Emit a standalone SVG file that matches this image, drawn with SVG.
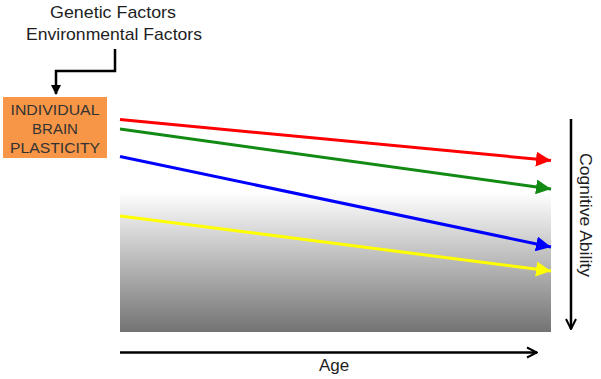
<svg xmlns="http://www.w3.org/2000/svg" width="601" height="379" viewBox="0 0 601 379">
<style>
text{font-family:"Liberation Sans",Arial,sans-serif;fill:#1e1e1e}
.lbl{font-size:17px}
.box{font-size:15px;fill:#333}
.ax{stroke:#000;stroke-width:2.5;fill:none}
.ln{stroke-width:3;fill:none}
</style>
<defs>
<linearGradient id="g" x1="0" y1="0" x2="0" y2="1">
<stop offset="0" stop-color="#ffffff"/>
<stop offset="1" stop-color="#737373"/>
</linearGradient>
<marker id="ab" viewBox="0 0 10 10" refX="9" refY="5" markerWidth="5" markerHeight="5" orient="auto" markerUnits="strokeWidth"><path d="M1,1 L9,5 L1,9" fill="none" stroke="#000" stroke-width="1.6"/></marker>
<marker id="ak" viewBox="0 0 10 10" refX="9" refY="5" markerWidth="4" markerHeight="4" orient="auto" markerUnits="strokeWidth"><path d="M0,0 L10,5 L0,10 Z" fill="#000"/></marker>
<marker id="mr" viewBox="0 0 10 10" refX="10" refY="5" markerWidth="5" markerHeight="5" orient="auto" markerUnits="strokeWidth"><path d="M0,0 L10,5 L0,10 Z" fill="#ff0000"/></marker>
<marker id="mg" viewBox="0 0 10 10" refX="10" refY="5" markerWidth="5" markerHeight="5" orient="auto" markerUnits="strokeWidth"><path d="M0,0 L10,5 L0,10 Z" fill="#138a13"/></marker>
<marker id="mb" viewBox="0 0 10 10" refX="10" refY="5" markerWidth="5" markerHeight="5" orient="auto" markerUnits="strokeWidth"><path d="M0,0 L10,5 L0,10 Z" fill="#0000ff"/></marker>
<marker id="my" viewBox="0 0 10 10" refX="10" refY="5" markerWidth="5" markerHeight="5" orient="auto" markerUnits="strokeWidth"><path d="M0,0 L10,5 L0,10 Z" fill="#ffff00"/></marker>
</defs>
<rect id="field" x="120" y="192" width="431" height="140" fill="url(#g)"/>
<g id="factors">
<text class="lbl" x="113" y="18" text-anchor="middle" textLength="126" lengthAdjust="spacingAndGlyphs">Genetic Factors</text>
<text class="lbl" x="114" y="40" text-anchor="middle" textLength="176" lengthAdjust="spacingAndGlyphs">Environmental Factors</text>
</g>
<g id="plasticity">
<rect x="3" y="97" width="104" height="61" fill="#f79646"/>
<text class="box" x="55" y="114.5" text-anchor="middle" textLength="89" lengthAdjust="spacingAndGlyphs">INDIVIDUAL</text>
<text class="box" x="55" y="133.5" text-anchor="middle">BRAIN</text>
<text class="box" x="55" y="152.5" text-anchor="middle" textLength="90" lengthAdjust="spacingAndGlyphs">PLASTICITY</text>
</g>
<g id="connectors">
<path class="ax" d="M115,49 V71 H56 V94" stroke-width="2" marker-end="url(#ak)"/>
<line class="ln" x1="120" y1="119.5" x2="551" y2="160.5" stroke="#ff0000" marker-end="url(#mr)"/>
<line class="ln" x1="120" y1="129" x2="551" y2="189" stroke="#138a13" marker-end="url(#mg)"/>
<line class="ln" x1="120" y1="156.5" x2="551" y2="247" stroke="#0000ff" marker-end="url(#mb)"/>
<line class="ln" x1="120" y1="216" x2="551" y2="271" stroke="#ffff00" marker-end="url(#my)"/>
<line class="ax" x1="571" y1="119" x2="571" y2="329" marker-end="url(#ab)"/>
<line class="ax" x1="120" y1="352.5" x2="537" y2="352.5" marker-end="url(#ab)"/>
</g>
<g id="axes-labels">
<text class="lbl" x="334" y="371" text-anchor="middle" font-size="16">Age</text>
<text class="lbl" transform="translate(580,215) rotate(90)" text-anchor="middle" font-size="16" textLength="124" lengthAdjust="spacingAndGlyphs">Cognitive Ability</text>
</g>
</svg>
